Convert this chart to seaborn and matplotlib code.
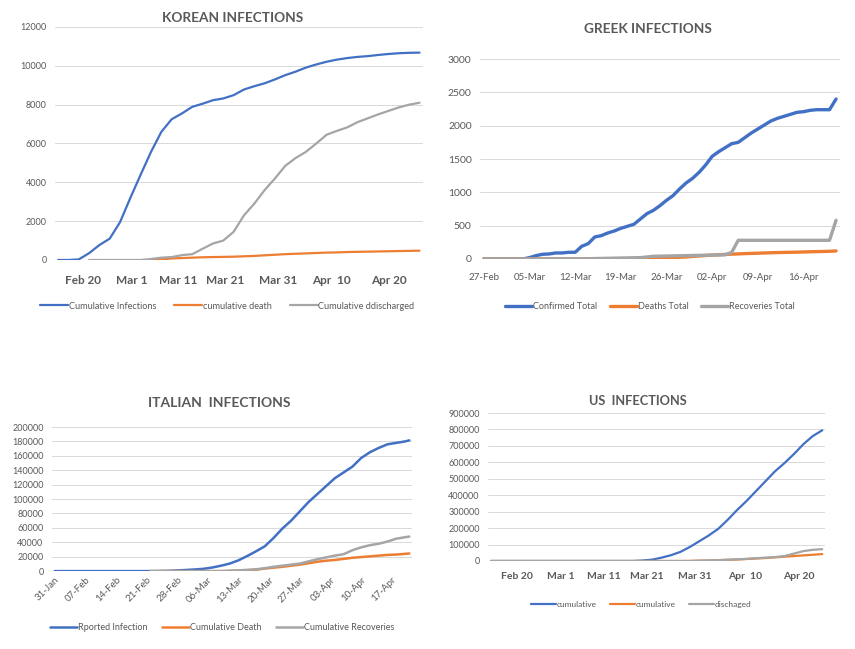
import numpy as np
import pandas as pd
import matplotlib
matplotlib.use("Agg")
import matplotlib.pyplot as plt
import seaborn as sns

# ---------------- data ----------------
# Korea: day 0 = Feb 15, every 2 days
kor_days = list(range(0, 71, 2))
kor_infections = [0, 0, 30, 350, 770, 1100, 1950, 3200, 4400, 5570, 6600, 7250,
                  7550, 7890, 8050, 8230, 8320, 8490, 8780, 8950, 9100, 9300,
                  9520, 9700, 9910, 10070, 10210, 10320, 10400, 10460, 10500,
                  10560, 10610, 10650, 10670, 10680]
kor_death = [np.nan] * 9 + [0, 30, 80, 100, 120, 140, 150, 160, 170, 190, 210,
                            240, 270, 300, 320, 340, 360, 380, 390, 410, 420,
                            430, 440, 450, 460, 470, 480]
kor_discharged = [np.nan, np.nan, np.nan, 0, 0, 0, 0, 0, 0, 50, 120, 150, 250,
                  300, 580, 850, 1000, 1450, 2300, 2900, 3600, 4200, 4850, 5250,
                  5570, 6000, 6450, 6650, 6830, 7100, 7300, 7500, 7680, 7860,
                  8000, 8100]
kor_tick_pos = [4.8, 14.2, 23.3, 32.4, 42.7, 52.9, 64.1]
kor_tick_lab = ["Feb 20", "Mar 1", "Mar 11", "Mar 21", "Mar 31", "Apr  10", "Apr 20"]

# Greece: day 0 = 27-Feb, daily
gre_days = list(range(0, 55))
gre_confirmed = [0, 0, 0, 0, 0, 0, 0, 20, 50, 70, 75, 90, 90, 100, 100, 190,
                 230, 330, 350, 390, 420, 460, 490, 520, 600, 680, 730, 800,
                 880, 950, 1050, 1140, 1210, 1300, 1410, 1540, 1610, 1670, 1730,
                 1750, 1820, 1890, 1950, 2010, 2070, 2110, 2140, 2170, 2200,
                 2210, 2230, 2240, 2240, 2240, 2400]
gre_deaths = [0] * 20 + [2, 3, 4, 5, 6, 8, 10, 14, 18, 22, 26, 30, 38, 45, 52,
                         58, 63, 68, 72, 76, 80, 83, 86, 90, 93, 96, 98, 100, 102,
                         105, 108, 110, 112, 115, 120]
gre_recoveries = [0] * 15 + [2, 4, 6, 8, 10, 12, 14, 16, 18, 20, 30, 40, 42, 44,
                             46, 48, 50, 52, 54, 56, 58, 60, 62, 100, 280, 280,
                             280, 280, 280, 280, 280, 280, 280, 280, 280, 280, 280,
                             280, 280, 580]
gre_tick_pos = [0, 7, 14, 21, 28, 35, 42, 49]
gre_tick_lab = ["27-Feb", "05-Mar", "12-Mar", "19-Mar", "26-Mar", "02-Apr",
                "09-Apr", "16-Apr"]

# Italy: day 0 = 31-Jan, every 2 days (+ last day 81)
ita_days = list(range(0, 81, 2)) + [81]
ita_reported = [0] * 11 + [20, 150, 400, 900, 1600, 2300, 3200, 5000, 7500,
                           10500, 15000, 21000, 27500, 34500, 46000, 59000,
                           70000, 83000, 96000, 107000, 118000, 129000, 137000,
                           145000, 157000, 165000, 171000, 176000, 178000,
                           180000, 181500]
ita_death = [np.nan] * 11 + [0] * 9 + [300, 600, 1000, 2000, 3500, 4800, 6000,
                                       7500, 9000, 11000, 13000, 14500, 15500,
                                       17000, 18500, 19500, 20500, 21500, 22500,
                                       23000, 24000, 24500]
ita_recoveries = [np.nan] * 11 + [0] * 9 + [500, 1000, 1800, 2500, 4000, 6000,
                                            7500, 9000, 10500, 13500, 16500,
                                            19000, 21500, 23500, 29000, 33000,
                                            36000, 38000, 41000, 45000, 47000,
                                            48000]
ita_tick_pos = list(range(0, 78, 7))
ita_tick_lab = ["31-Jan", "07-Feb", "14-Feb", "21-Feb", "28-Feb", "06-Mar",
                "13-Mar", "20-Mar", "27-Mar", "03-Apr", "10-Apr", "17-Apr"]

# US: day 0 = Feb 15, every 2 days
us_days = list(range(0, 71, 2))
us_cumulative = [0] * 16 + [3000, 8000, 20000, 35000, 55000, 85000, 120000,
                            155000, 195000, 250000, 310000, 365000, 425000,
                            485000, 545000, 595000, 650000, 710000, 760000,
                            795000]
us_deaths = [0] * 21 + [500, 2000, 3000, 5000, 7000, 9000, 12000, 15000, 18000,
                        22000, 26000, 30000, 34000, 38000, 42000]
us_discharged = [0] * 22 + [2000, 3500, 5000, 7500, 10000, 13000, 17000, 20000,
                            24000, 30000, 45000, 60000, 68000, 72000]
us_tick_pos = [5.5, 14.7, 23.9, 33.0, 43.1, 53.8, 65.0]
us_tick_lab = ["Feb 20", "Mar 1", "Mar 11", "Mar 21", "Mar 31", "Apr  10", "Apr 20"]

# ---------------- style ----------------
sns.set_theme(style="white")
plt.rcParams["font.family"] = ["Lato", "DejaVu Sans"]

BLUE = "#4170C4"
ORANGE = "#ED7D31"
GRAY = "#A5A5A5"
TXT = "#595959"

fig = plt.figure(figsize=(8.55, 6.49), dpi=100)


def panel(rect, days, series, labels, xmax, ymax, ystep, lw, title, tpos,
          tsize, ticks, ticklabs, tick_kw, legpos, legsize, colspace=1.6):
    ax = fig.add_axes(rect)
    df = pd.DataFrame({"day": days})
    for s, lab, col in zip(series, labels, [BLUE, ORANGE, GRAY]):
        df[lab + col] = s
        sns.lineplot(data=df, x="day", y=lab + col, ax=ax, color=col,
                     linewidth=lw, label=lab)
    ax.set_xlim(-0.6, xmax + 0.6)
    ax.set_ylim(0, ymax)
    ax.set_yticks(np.arange(0, ymax + 1, ystep))
    ax.grid(axis="y", color="#D9D9D9", linewidth=0.7)
    ax.set_axisbelow(True)
    for sp in ax.spines.values():
        sp.set_visible(False)
    ax.set_xlabel("")
    ax.set_ylabel("")
    ax.tick_params(axis="y", labelsize=6.5, colors=TXT, length=0, pad=6)
    ax.set_xticks(ticks)
    ax.set_xticklabels(ticklabs, **tick_kw)
    ax.tick_params(axis="x", length=0, colors=TXT)
    fig.text(tpos[0], tpos[1], title, ha="center", va="center",
             fontsize=tsize, fontweight="bold", color=TXT)
    ax.legend(loc="center", bbox_to_anchor=legpos, bbox_transform=fig.transFigure,
              ncol=3, frameon=False, fontsize=legsize, handlelength=3,
              handletextpad=0.1, columnspacing=colspace, labelcolor=TXT)
    return ax


ax1 = panel([0.0643, 0.5994, 0.430, 0.359], kor_days,
            [kor_infections, kor_death, kor_discharged],
            ["Cumulative Infections", "cumulative death", "Cumulative ddischarged"],
            70, 12000, 2000, 1.6, "KOREAN INFECTIONS", (0.2725, 0.972), 9.8,
            kor_tick_pos, kor_tick_lab,
            dict(fontsize=8.5, fontweight="bold"), (0.266, 0.5285), 6.6, 2.0)
ax1.tick_params(axis="x", pad=11)

ax2 = panel([0.5614, 0.601, 0.421, 0.308], gre_days,
            [gre_confirmed, gre_deaths, gre_recoveries],
            ["Confirmed Total", "Deaths Total", "Recoveries Total"],
            54, 3000, 500, 2.4, "GREEK INFECTIONS", (0.758, 0.955), 9.8,
            gre_tick_pos, gre_tick_lab, dict(fontsize=7), (0.760, 0.527), 6.5, 1.4)
ax2.tick_params(axis="x", pad=10)
ax2.tick_params(axis="y", labelsize=7.5)

ax3 = panel([0.0608, 0.120, 0.421, 0.222], ita_days,
            [ita_reported, ita_death, ita_recoveries],
            ["Rported Infection", "Cumulative Death", "Cumulative Recoveries"],
            81, 200000, 20000, 1.8, "ITALIAN  INFECTIONS", (0.257, 0.379), 10,
            ita_tick_pos, ita_tick_lab,
            dict(fontsize=7, rotation=45, ha="right", rotation_mode="anchor"),
            (0.260, 0.0324), 6.5)
ax3.tick_params(axis="x", pad=3)

ax4 = panel([0.571, 0.1356, 0.394, 0.228], us_days,
            [us_cumulative, us_deaths, us_discharged],
            ["cumulative", "cumulative", "dischaged"],
            70, 900000, 100000, 1.6, "US  INFECTIONS", (0.746, 0.382), 9.2,
            us_tick_pos, us_tick_lab,
            dict(fontsize=7.5, fontweight="bold"), (0.750, 0.068), 6)
ax4.tick_params(axis="x", pad=8)

fig.savefig("out.png", dpi=100)
